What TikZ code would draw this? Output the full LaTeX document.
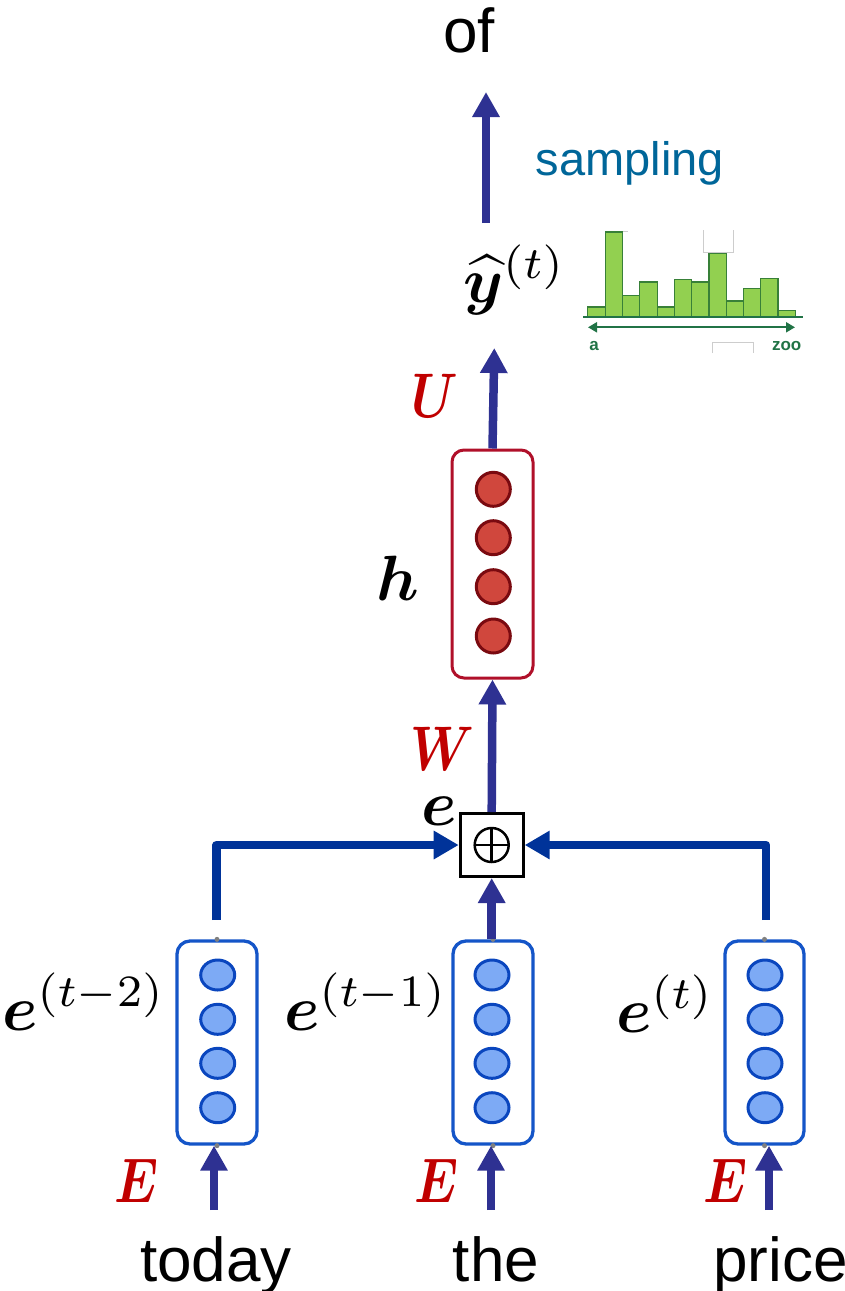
\documentclass[tikz,border=0pt]{standalone}
\usepackage[no-math]{fontspec}
\usepackage{bm}
\usepackage{graphicx}
\newfontfamily\arial{Liberation Sans}
\newcommand{\mlab}[1]{\scalebox{6.4}{$#1$}}
\newcommand{\mcap}[1]{\scalebox{5.1}[6.3]{$#1$}}
\usetikzlibrary{arrows.meta,shapes.geometric}
\definecolor{arrowblue}{RGB}{46,49,146}
\definecolor{connblue}{RGB}{0,51,153}
\definecolor{lblred}{RGB}{192,0,0}
\definecolor{hstroke}{RGB}{176,16,42}
\definecolor{hfill}{RGB}{208,71,61}
\definecolor{hcirc}{RGB}{122,10,16}
\definecolor{estroke}{RGB}{20,85,200}
\definecolor{efill}{RGB}{125,170,245}
\definecolor{ecirc}{RGB}{10,70,190}
\definecolor{sampcol}{RGB}{0,102,153}
\definecolor{barfill}{RGB}{146,208,80}
\definecolor{barline}{RGB}{56,128,56}
\definecolor{axgreen}{RGB}{33,115,70}
\definecolor{artgray}{RGB}{205,205,205}
\tikzset{
  word/.style={font=\arial\fontsize{62}{74}\selectfont, inner sep=0pt, anchor=base},
  mlbl/.style={inner sep=0pt, anchor=base west},
  redlbl/.style={mlbl, text=lblred},
  up/.style={draw=arrowblue, line width=8.5pt, -{Triangle[length=25pt,width=26pt]}},
  conn/.style={draw=connblue, line width=8.7pt, -{Triangle[length=25pt,width=27pt]}},
  eboxst/.style={draw=estroke, line width=3.3pt, rounded corners=13pt, minimum width=80pt, minimum height=203pt, inner sep=0pt},
  hboxst/.style={draw=hstroke, line width=3pt, rounded corners=12pt, minimum width=81pt, minimum height=228pt, inner sep=0pt},
  eunit/.style={ellipse, draw=ecirc, fill=efill, line width=3pt, minimum width=34pt, minimum height=30pt, inner sep=0pt},
  hunit/.style={circle, draw=hcirc, fill=hfill, line width=3pt, minimum size=34pt, inner sep=0pt},
  bar/.style={draw=barline, fill=barfill, line width=1.5pt},
  small/.style={font=\arial\bfseries\fontsize{17}{20}\selectfont, text=axgreen, inner sep=0pt, anchor=base}
}
\begin{document}
\begin{tikzpicture}[x=1pt,y=-1pt]
\useasboundingbox (0,0) rectangle (845,1291);

% top output word and sampling
\node[word] (of) at (469,52) {of};
\node[font=\arial\fontsize{47}{56}\selectfont, text=sampcol, inner sep=0pt, anchor=base] (samp) at (630,175) {sampling};
\coordinate (s0) at (486,223);
\coordinate (s1) at (486,92);
\draw[up] (s0) -- (s1);

% y hat
\node[mlbl] (yhat) at (463,302) {\mlab{\widehat{\bm{y}}^{(t)}}};

% histogram
\draw[artgray, line width=1pt] (703.3,230) -- (703.3,252.7) -- (733.3,252.7) -- (733.3,230);
\draw[artgray, line width=1pt] (622.7,231) -- (628,231);
\draw[artgray, line width=1pt] (712.7,353) -- (712.7,342.7) -- (753.3,342.7) -- (753.3,353);
\foreach \xa/\xb/\yt in {587.7/605.7/307, 605.7/622.7/232, 622.7/639.7/295.3, 639.7/657.3/282,
  657.3/674.3/307, 674.3/691.7/279.3, 691.7/709/282, 709/726.3/253.3, 726.3/743.3/301,
  743.3/760.3/288.7, 760.3/778/278.3, 778/795.3/310.7}
  \draw[bar] (\xa,317.3) rectangle (\xb,\yt);
\draw[axgreen, line width=2pt] (583,317.3) -- (803,317.3);
\coordinate (ha) at (588,327.3);
\coordinate (hz) at (795,327.3);
\draw[axgreen, line width=2.2pt, {Triangle[length=9pt,width=10pt]}-{Triangle[length=9pt,width=10pt]}] (ha) -- (hz);
\node[small] (la) at (594,350) {a};
\node[small] (lz) at (786.7,350) {zoo};

% hidden layer
\node[hboxst] (hbox) at (492.5,564) {};
\foreach \i/\y in {1/489.3, 2/537.7, 3/586.7, 4/636}
  \node[hunit] (h\i) at (493.3,\y) {};
\node[mlbl] (hl) at (376,600) {\mlab{\bm{h}}};
\node[redlbl] (U) at (411,417) {\mcap{\bm{U}}};
\coordinate (yb) at (494.3,348);
\draw[up] (hbox.north) -- (yb);

% concatenation
\node[draw, line width=3pt, minimum size=63pt, inner sep=0pt] (ops) at (491.7,845) {};
\draw[line width=2.5pt] (ops.center) circle (17pt);
\draw[line width=2.5pt] ([xshift=-17pt]ops.center) -- ([xshift=17pt]ops.center);
\draw[line width=2.5pt] ([yshift=-17pt]ops.center) -- ([yshift=17pt]ops.center);
\node[mlbl] (el) at (421,825) {\mlab{\bm{e}}};
\node[redlbl] (W) at (410,770) {\mcap{\bm{W}}};
\draw[up] (ops.north) -- (hbox.south);

% embedding boxes
\node[eboxst] (eb1) at (217,1042.5) {};
\node[eboxst] (eb2) at (493,1042.5) {};
\node[eboxst, minimum width=79pt] (eb3) at (764.5,1042.5) {};
\foreach \b/\x in {1/217.7, 2/492, 3/765}
  \foreach \i/\y in {1/975, 2/1019.3, 3/1063.3, 4/1107.7}
    \node[eunit] (u\b\i) at (\x,\y) {};
\foreach \b in {1,2,3} {
  \fill[gray] (eb\b.north) circle (2.5pt);
  \fill[gray] (eb\b.south) circle (2.5pt);
}
\node[mlbl] (e1l) at (2,1030) {\mlab{\bm{e}^{(t-2)}}};
\node[mlbl] (e2l) at (284,1030) {\mlab{\bm{e}^{(t-1)}}};
\node[mlbl] (e3l) at (616,1032) {\mlab{\bm{e}^{(t)}}};

% connectors to concatenation
\coordinate (c1) at (216.7,920);
\coordinate (c3) at (766,920);
\draw[conn, line join=round] (c1) |- (ops.west);
\draw[conn, line join=round] (c3) |- (ops.east);
\draw[up] (ops.south |- eb2.north) -- (ops.south);

% inputs
\node[word] (w1) at (216,1281) {today};
\node[word] (w2) at (496,1281) {the};
\node[word, anchor=base west] (w3) at (713,1281) {price};
\coordinate (a1) at (214,1210);
\coordinate (a2) at (491,1210);
\coordinate (a3) at (769,1210);
\draw[up] (a1) -- (a1 |- eb1.south);
\draw[up] (a2) -- (a2 |- eb2.south);
\draw[up] (a3) -- (a3 |- eb3.south);
\node[redlbl] (E1) at (114,1202) {\mcap{\bm{E}}};
\node[redlbl] (E2) at (414,1202) {\mcap{\bm{E}}};
\node[redlbl] (E3) at (703,1202) {\mcap{\bm{E}}};
\end{tikzpicture}
\end{document}
